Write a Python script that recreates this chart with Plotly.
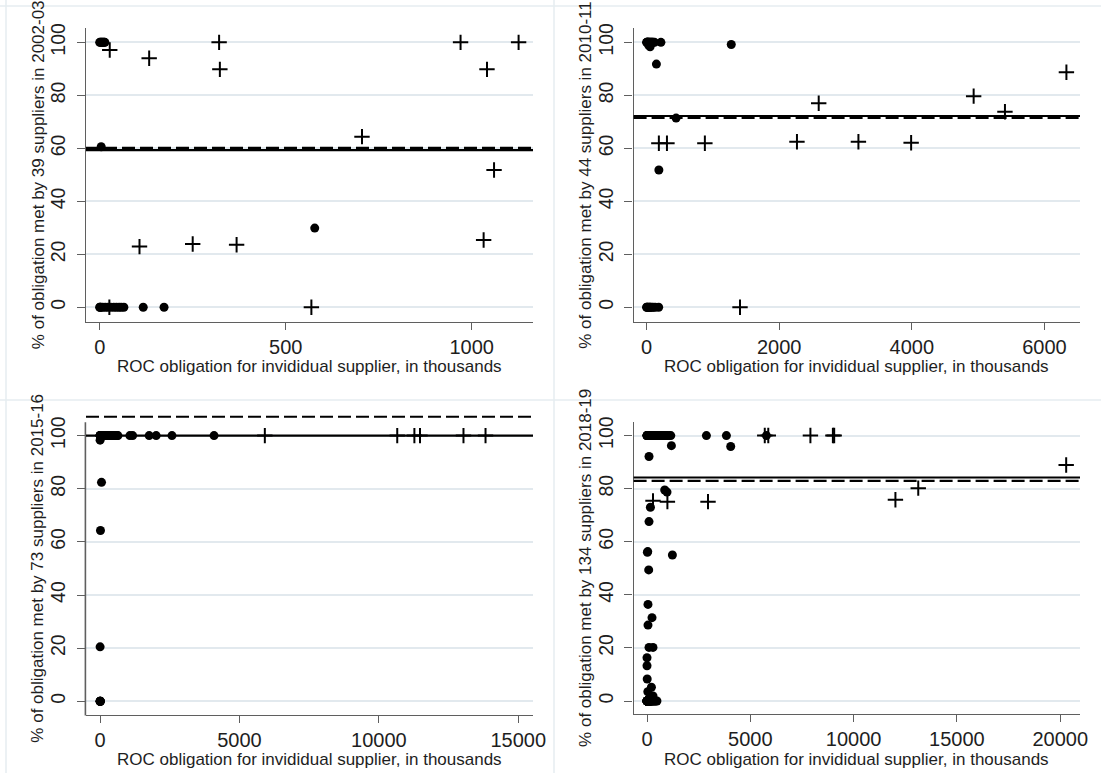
import plotly.graph_objects as go

W, H = 1101, 773

# ---------------- DATA ----------------
# Panel 1: 2002-03 (39 suppliers)
a_circle_x = [0, 2, 4, 6, 8, 10, 12, 14, 4, 578, 0, 1, 3, 8, 15, 22, 30, 38, 45, 52, 58, 65, 117, 173]
a_circle_y = [100, 100, 100, 100, 100, 100, 100, 100, 60.6, 29.9, 0, 0, 0, 0, 0, 0, 0, 0, 0, 0, 0, 0, 0, 0]
a_plus_x = [27, 133, 321, 323, 970, 1126, 1041, 705, 1060, 1032, 107, 250, 368, 569, 26]
a_plus_y = [97.1, 94.0, 100, 89.8, 100, 100, 89.8, 64.4, 51.8, 25.4, 22.9, 23.9, 23.6, 0, 0]

# Panel 2: 2010-11 (44 suppliers)
b_circle_x = [0, 5, 10, 15, 20, 25, 35, 40, 50, 60, 70, 80, 90, 100, 120, 216,
              30, 53, 1277, 148, 445, 185,
              0, 5, 15, 25, 40, 50, 60, 80, 100, 130, 182]
b_circle_y = [100, 100, 100, 100, 100, 100, 100, 100, 100, 100, 100, 100, 100, 100, 100, 100,
              99.0, 98.3, 99.2, 91.8, 71.4, 51.8,
              0, 0, 0, 0, 0, 0, 0, 0, 0, 0, 0]
b_plus_x = [185, 307, 879, 2268, 3195, 3990, 2596, 4933, 5405, 6332, 1409]
b_plus_y = [61.9, 61.9, 61.9, 62.5, 62.5, 62.1, 77.0, 79.7, 73.8, 88.7, 0]

# Panel 3: 2015-16 (73 suppliers)
c_circle_x = [0, 0, 1, 2, 3, 4, 6, 8, 10, 12, 15, 18, 21, 25, 29, 33, 38, 43, 48, 54,
              60, 67, 74, 82, 90, 99, 108, 118, 130, 142, 155, 170, 185, 200, 218, 236, 255, 275, 296, 318,
              340, 363, 387, 412, 438, 465, 492, 520, 548, 576, 605, 640,
              1068, 1168, 1760, 2011, 2578, 4087,
              0, 50, 13, 0,
              0, 0, 2, 5, 8]
c_circle_y = [100, 100, 100, 100, 100, 100, 100, 100, 100, 100, 100, 100, 100, 100, 100, 100, 100, 100, 100, 100,
              100, 100, 100, 100, 100, 100, 100, 100, 100, 100, 100, 100, 100, 100, 100, 100, 100, 100, 100, 100,
              100, 100, 100, 100, 100, 100, 100, 100, 100, 100, 100, 100,
              100, 100, 100, 100, 100, 100,
              98.3, 82.4, 64.3, 20.5,
              0, 0, 0, 0, 0]
c_plus_x = [5909, 10659, 11274, 11475, 13035, 13826]
c_plus_y = [100, 100, 100, 100, 100, 100]

# Panel 4: 2018-19 (134 suppliers)
d_circle_x = [1181, 4051, 2875, 3843, 5779, 97, 857, 968, 165, 97, 19, 35, 1229, 82, 48, 242, 48, 97, 290,
              0, 0, 10, 213, 40, 290,
              0, 0, 3, 6, 10, 14, 18, 23, 28, 34, 40, 47, 54, 62, 70, 79, 88, 98, 108, 119,
              130, 142, 155, 168, 182, 197, 212, 228, 245, 263, 282, 302, 323, 345, 368, 392, 417, 443, 470, 498,
              527, 557, 588, 620, 653, 687, 722, 758, 795, 833, 872, 912, 990, 1070, 1150,
              0, 0, 0, 1, 2, 3, 4, 5, 6, 8, 10, 12, 14, 16, 19, 22, 25, 28, 32, 36,
              40, 45, 50, 56, 62, 69, 76, 84, 93, 103, 114, 126, 139, 153, 168, 184, 201, 240, 280, 320,
              370, 420, 480]
d_circle_y = [96.2, 95.9, 100, 100, 100, 92.1, 79.5, 78.7, 73.0, 67.6, 56.0, 56.3, 55.0, 49.4, 36.4, 31.4, 28.6, 20.2, 20.2,
              16.3, 13.3, 8.3, 5.2, 3.5, 1.9,
              100, 100, 100, 100, 100, 100, 100, 100, 100, 100, 100, 100, 100, 100, 100, 100, 100, 100, 100, 100,
              100, 100, 100, 100, 100, 100, 100, 100, 100, 100, 100, 100, 100, 100, 100, 100, 100, 100, 100, 100,
              100, 100, 100, 100, 100, 100, 100, 100, 100, 100, 100, 100, 100, 100, 100,
              0, 0, 0, 0, 0, 0, 0, 0, 0, 0, 0, 0, 0, 0, 0, 0, 0, 0, 0, 0,
              0, 0, 0, 0, 0, 0, 0, 0, 0, 0, 0, 0, 0, 0, 0, 0, 0, 0, 0, 0,
              0, 0, 0]
d_plus_x = [290, 987, 2953, 5700, 5870, 7909, 8997, 9060, 12024, 13129, 20289]
d_plus_y = [75.4, 75.1, 75.1, 100, 100, 100, 100, 100, 75.8, 80.2, 88.9]

# Reference lines (solid / dashed) per panel
line_solid = [59.3, 72.2, 100.0, 84.2]
line_dashed = [60.2, 71.5, 107.1, 82.9]

y_titles = [
    "% of obligation met by 39 suppliers in 2002-03",
    "% of obligation met by 44 suppliers in 2010-11",
    "% of obligation met by 73 suppliers in 2015-16",
    "% of obligation met by 134 suppliers in 2018-19",
]
x_title = "ROC obligation for invididual supplier, in thousands"
x_ticks = [[0, 500, 1000], [0, 2000, 4000, 6000], [0, 5000, 10000, 15000], [0, 5000, 10000, 15000, 20000]]
y_ticks = [0, 20, 40, 60, 80, 100]

circles_x = [a_circle_x, b_circle_x, c_circle_x, d_circle_x]
circles_y = [a_circle_y, b_circle_y, c_circle_y, d_circle_y]
plus_x = [a_plus_x, b_plus_x, c_plus_x, d_plus_x]
plus_y = [a_plus_y, b_plus_y, c_plus_y, d_plus_y]

# ---------------- LAYOUT (pixels) ----------------
# left, right, plot top, plot bottom, axis-line top
boxes = [
    (86, 533, 28.3, 322, 28.3),
    (633.6, 1080, 28.3, 322, 28.3),
    (86, 533, 411.7, 715, 422.3),
    (633.6, 1080, 422.3, 714.3, 422.3),
]
x_ranges = [[-36.8, 1164.7], [-196, 6537], [-506, 15529], [-649, 20958]]
y_ranges = [[-5.55, 105.3], [-5.55, 105.3], [-5.16, 109.0], [-5.0, 105.0]]

FONT = "Liberation Sans"
TXT = "#1e1e1e"
AXC = "#5f5f5f"
GRID = "#e2e9ee"

fig = go.Figure()
layout = dict(
    width=W, height=H, margin=dict(l=0, r=0, t=0, b=0, autoexpand=False),
    paper_bgcolor="white", plot_bgcolor="white", showlegend=False,
    font=dict(family=FONT, color=TXT),
)
shapes = []
annotations = []

for i in range(4):
    sfx = "" if i == 0 else str(i + 1)
    xa, ya = "x" + sfx, "y" + sfx
    L, R, T, B, AT = boxes[i]
    fig.add_trace(go.Scatter(
        x=plus_x[i], y=plus_y[i], mode="markers", xaxis=xa, yaxis=ya,
        marker=dict(symbol="cross-thin", size=11, line=dict(width=2, color="black"), color="black"),
        hoverinfo="x+y"))
    fig.add_trace(go.Scatter(
        x=circles_x[i], y=circles_y[i], mode="markers", xaxis=xa, yaxis=ya,
        marker=dict(symbol="circle", size=9, color="black", line=dict(width=0)),
        hoverinfo="x+y"))

    layout["xaxis" + sfx] = dict(
        domain=[L / W, R / W], range=x_ranges[i], anchor=ya, automargin=False,
        tickmode="array", tickvals=x_ticks[i], ticktext=[str(v) for v in x_ticks[i]],
        ticks="outside", ticklen=7, tickwidth=1.3, tickcolor=AXC,
        showline=True, linecolor=AXC, linewidth=1.3, showgrid=False, zeroline=False,
        tickfont=dict(size=20, family=FONT, color=TXT),
    )
    layout["yaxis" + sfx] = dict(
        domain=[1 - B / H, 1 - T / H], range=y_ranges[i], anchor=xa, automargin=False,
        tickmode="array", tickvals=y_ticks, ticktext=[str(v) for v in y_ticks],
        ticks="outside", ticklen=8, tickwidth=1.3, tickcolor=AXC,
        showline=(i != 2), linecolor=AXC, linewidth=1.3,
        showgrid=True, gridcolor=GRID, gridwidth=1.5, zeroline=False,
        tickangle=-90, ticklabelstandoff=4, tickfont=dict(size=19.5, family=FONT, color=TXT),
    )
    if i == 2:
        # y-axis line of panel 3 stops at the top of the plot region (the dashed line lies above it)
        shapes.append(dict(type="line", xref="paper", yref="paper", x0=(L - 0.6) / W, x1=(L - 0.6) / W,
                           y0=1 - (B + 0.6) / H, y1=1 - AT / H, line=dict(color=AXC, width=1.6),
                           layer="above"))
    shapes.append(dict(type="line", xref=xa + " domain", yref=ya, x0=0, x1=1,
                       y0=line_solid[i], y1=line_solid[i], line=dict(color="black", width=2.2),
                       layer="above"))
    shapes.append(dict(type="line", xref=xa + " domain", yref=ya, x0=0, x1=1,
                       y0=line_dashed[i], y1=line_dashed[i],
                       line=dict(color="black", width=2.2, dash="13px,5px"), layer="above"))
    # axis titles
    xt_y = 366 if i < 2 else 759
    annotations.append(dict(text=x_title, xref="paper", yref="paper", x=(L + R) / 2 / W, y=1 - xt_y / H,
                            xanchor="center", yanchor="middle", showarrow=False,
                            font=dict(size=17, family=FONT, color=TXT)))
    annotations.append(dict(text=y_titles[i], xref="paper", yref="paper", x=(L - 48) / W,
                            y=1 - ((AT + B) / 2) / H, xanchor="center", yanchor="middle",
                            textangle=-90, showarrow=False,
                            font=dict(size=17, family=FONT, color=TXT)))

# faint panel borders
BORD = "#e6ecf0"
for xp in [6, 554]:
    shapes.append(dict(type="line", xref="paper", yref="paper", x0=xp / W, x1=xp / W, y0=0, y1=1,
                       line=dict(color=BORD, width=1.5), layer="below"))
for yp in [6, 400]:
    shapes.append(dict(type="line", xref="paper", yref="paper", x0=0, x1=1, y0=1 - yp / H, y1=1 - yp / H,
                       line=dict(color=BORD, width=1.5), layer="below"))

layout["shapes"] = shapes
layout["annotations"] = annotations
fig.update_layout(**layout)
fig.write_html("out.html", config={"displayModeBar": False},
               post_script="document.body.style.margin='0';document.body.style.padding='0';")
